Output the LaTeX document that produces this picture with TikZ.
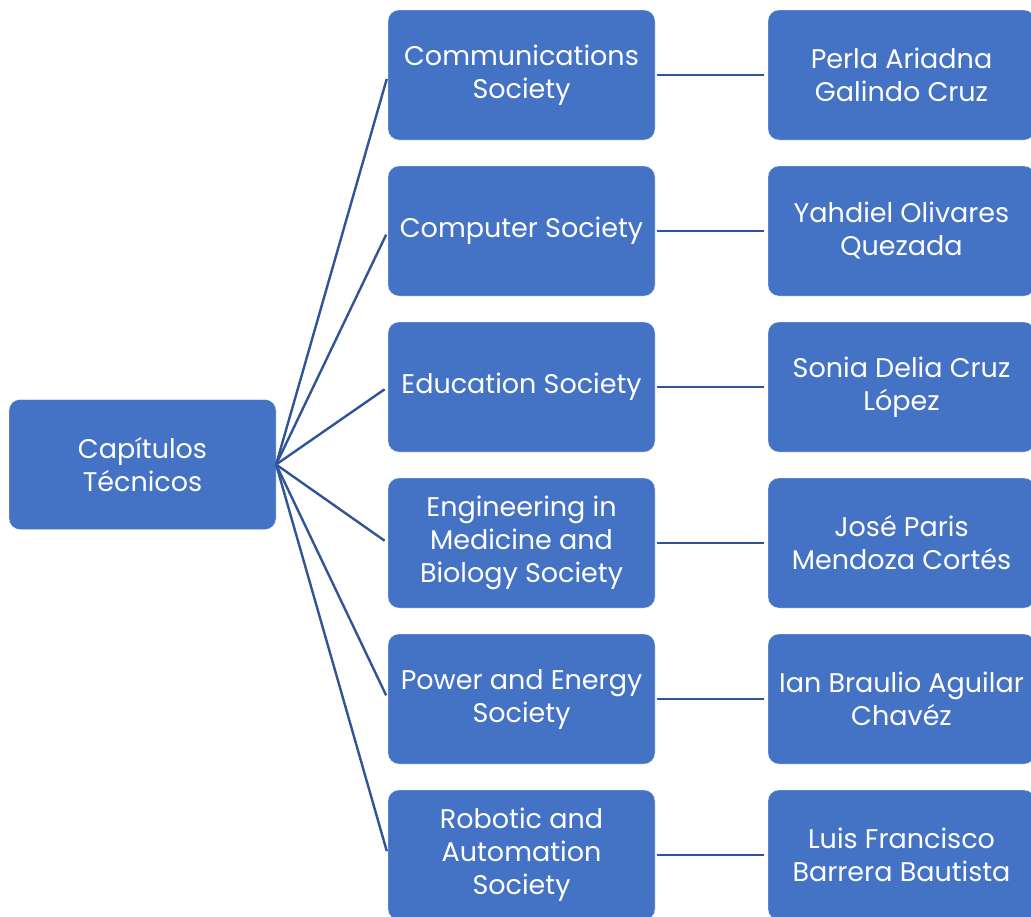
\documentclass[tikz,border=0pt]{standalone}
\usepackage{fontspec}
\setmainfont{Poppins}
\definecolor{boxblue}{HTML}{4472C4}
\definecolor{lineblue}{HTML}{2F5597}
\tikzset{
 card/.style={fill=boxblue,draw=white,very thin,rounded corners=11pt,minimum width=267pt,minimum height=130pt,inner sep=0pt,align=center,text=white,font=\fontsize{27}{33}\selectfont},
 link/.style={lineblue,line width=2.4pt}
}
\begin{document}
\begin{tikzpicture}[x=1pt,y=-1pt]
 \useasboundingbox (0,0) rectangle (1031,916);
 \node[card] (root) at (142.5,464.5) {Capítulos\\Técnicos};
 \node[card] (comsoc) at (521.5,75) {Communications\\Society};
 \node[card] (compsoc) at (521.5,231) {Computer Society};
 \node[card] (edsoc) at (521.5,387) {Education Society};
 \node[card] (embs) at (521.5,543) {Engineering in\\Medicine and\\Biology Society};
 \node[card] (pes) at (521.5,699) {Power and Energy\\Society};
 \node[card] (ras) at (521.5,855) {Robotic and\\Automation\\Society};
 \node[card] (perla) at (901.5,75) {Perla Ariadna\\Galindo Cruz};
 \node[card] (yahdiel) at (901.5,231) {Yahdiel Olivares\\Quezada};
 \node[card] (sonia) at (901.5,387) {Sonia Delia Cruz\\López};
 \node[card] (jose) at (901.5,543) {José Paris\\Mendoza Cortés};
 \node[card] (ian) at (901.5,699) {Ian Braulio Aguilar\\Chavéz};
 \node[card] (luis) at (901.5,855) {Luis Francisco\\Barrera Bautista};
 \draw[link,shorten >=4pt] (root.east) -- (comsoc.west);
 \draw[link,shorten >=4pt] (root.east) -- (compsoc.west);
 \draw[link,shorten >=4pt] (root.east) -- (edsoc.west);
 \draw[link,shorten >=4pt] (root.east) -- (embs.west);
 \draw[link,shorten >=4pt] (root.east) -- (pes.west);
 \draw[link,shorten >=4pt] (root.east) -- (ras.west);
 \draw[link,shorten <=2pt,shorten >=4pt] (comsoc.east) -- (perla.west);
 \draw[link,shorten <=2pt,shorten >=4pt] (compsoc.east) -- (yahdiel.west);
 \draw[link,shorten <=2pt,shorten >=4pt] (edsoc.east) -- (sonia.west);
 \draw[link,shorten <=2pt,shorten >=4pt] (embs.east) -- (jose.west);
 \draw[link,shorten <=2pt,shorten >=4pt] (pes.east) -- (ian.west);
 \draw[link,shorten <=2pt,shorten >=4pt] (ras.east) -- (luis.west);
\end{tikzpicture}
\end{document}
